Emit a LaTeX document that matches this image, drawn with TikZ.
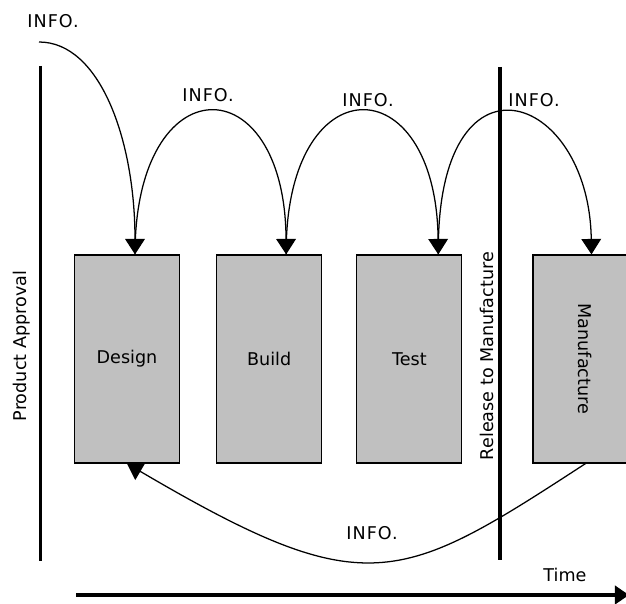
\documentclass[tikz,border=0pt]{standalone}
\usepackage{fontspec}
\setmainfont{DejaVu Sans}
\newfontfamily\infofont[LetterSpace=6]{DejaVu Sans}
\usetikzlibrary{arrows.meta,positioning,calc}
\definecolor{stagegray}{RGB}{192,192,192}

\tikzset{
  stage/.style={draw=black, line width=0.8pt, fill=stagegray,
    minimum width=2.625cm, minimum height=5.2cm, inner sep=0pt,
    font=\fontsize{12.5pt}{15pt}\selectfont},
  info/.style={-{Triangle[width=14pt,length=11pt]}, line width=0.9pt},
  infolabel/.style={font=\infofont\fontsize{12.5pt}{15pt}\selectfont},
  milestone/.style={line width=2.2pt},
  caption/.style={font=\fontsize{12.5pt}{15pt}\selectfont}
}

\begin{document}
\begin{tikzpicture}[x=0.025cm, y=-0.025cm]
  \useasboundingbox (0,0) rectangle (626,604);
  \clip (0,0) rectangle (626,604);
  % stages
  \node[stage] (design) at (127,359) {Design};
  \node[stage, right=0.9cm of design] (build) {Build};
  \node[stage, right=0.85cm of build] (test) {Test};
  \node[stage, right=1.75cm of test] (manuf) {\rotatebox{-90}{Manufacture}};
  % milestones
  \coordinate (pa-top) at (40.5,66);
  \coordinate (pa-bot) at (40.5,561);
  \coordinate (rm-top) at (500,67);
  \coordinate (rm-bot) at (500,560);
  \draw[milestone] (pa-top) -- (pa-bot);
  \draw[milestone] (rm-top) -- (rm-bot);
  \node[caption, rotate=90] (pa) at (22,346) {Product Approval};
  \node[caption, rotate=90] (rm) at (487,356) {Release to Manufacture};
  % info flow
  \coordinate (start) at (39,42);
  \coordinate (d-in) at ($(design.north)+(8,0)$);
  \coordinate (b-in) at ($(build.north)+(17,0)$);
  \coordinate (t-in) at ($(test.north)+(29,0)$);
  \coordinate (m-in) at ($(manuf.north)+(6,0)$);
  \draw[info] (start) .. controls (100,42) and (135,140) .. (d-in);
  \draw[info] (d-in) .. controls (135,64) and (285,64) .. (b-in);
  \draw[info] (b-in) .. controls (285,64) and (436,64) .. (t-in);
  \draw[info] (t-in) .. controls (436,40) and (589,90) .. (m-in);
  \draw[info] (manuf.south) .. controls (399,585) and (366,604) .. (design.south);
  \node[infolabel] (info0) at (53,21) {INFO.};
  \node[infolabel] (info1) at (208,95) {INFO.};
  \node[infolabel] (info2) at (368,100) {INFO.};
  \node[infolabel] (info3) at (534,100) {INFO.};
  \node[infolabel] (info4) at (372,533) {INFO.};
  % time axis
  \coordinate (t0) at (76,595);
  \coordinate (t1) at (629,595);
  \draw[milestone, -{Triangle[width=13pt,length=10pt]}] (t0) -- (t1);
  \node[caption] (time) at (565,575) {Time};
\end{tikzpicture}
\end{document}
